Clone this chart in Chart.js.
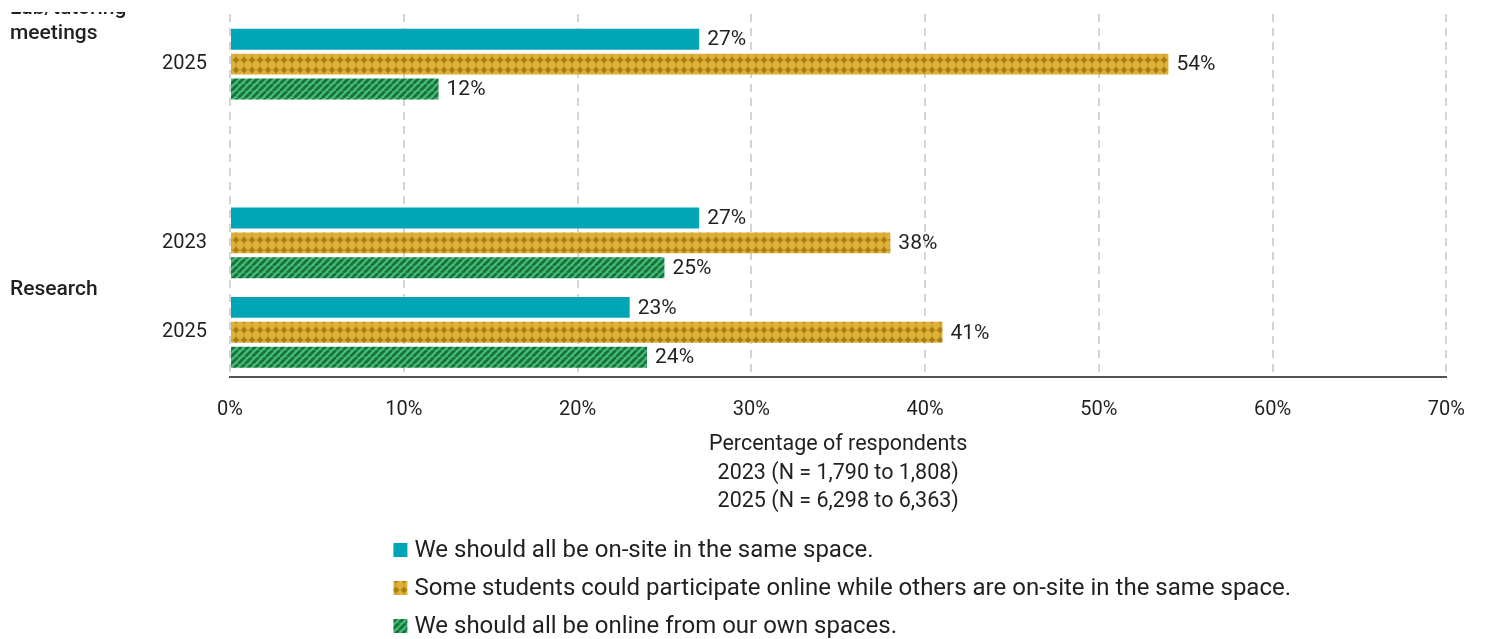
<!DOCTYPE html>
<html>
<head>
<meta charset="utf-8">
<script src="https://cdn.jsdelivr.net/npm/chart.js@4"></script>
<style>
    html, body { margin: 0; padding: 0; background: #fff; overflow: hidden; }
    #frame  { position: absolute; left: 0; top: 12px; width: 1486px; height: 627px; overflow: hidden; }
    #holder { position: absolute; left: 0; top: -117px; width: 1486px; height: 757px; }
</style>
</head>
<body>
<div id="frame"><div id="holder"><canvas id="modeChart"></canvas></div></div>
<script>
const YEAR_LABELS = ['2023', '2025', '', '2023', '2025'];

const GROUP_NAMES = [['Lab/tutoring', 'meetings'], ['Research']];
const GROUP_ROWS  = [[0, 1], [3, 4]];

const SERIES_LABELS = [
    'We should all be on-site in the same space.',
    'Some students could participate online while others are on-site in the same space.',
    'We should all be online from our own spaces.'
];

const ON_SITE = [null, 27, null, 27, 23];
const HYBRID  = [null, 54, null, 38, 41];
const ONLINE  = [null, 12, null, 25, 24];

const X_MAX  = 70;
const X_STEP = 10;

const AXIS_TITLE = [
    'Percentage of respondents',
    '2023 (N = 1,790 to 1,808)',
    '2025 (N = 6,298 to 6,363)'
];

const TEXT_COLOR = '#231f20';
const FONT = 'Roboto';

function makeTile(w, h, draw) {
    const tile = document.createElement('canvas');
    tile.width = w;
    tile.height = h;
    draw(tile.getContext('2d'));
    return document.createElement('canvas').getContext('2d').createPattern(tile, 'repeat');
}

// gold with rows of dark diamonds joined by thin lines
function dotPattern() {
    return makeTile(8, 10, (c) => {
        c.fillStyle = '#dfb038';
        c.fillRect(0, 0, 8, 10);
        c.fillStyle = '#c39a2a';
        c.fillRect(0, 4.5, 8, 1);
        c.fillRect(3.5, 0, 1, 10);
        c.fillStyle = '#a87d12';
        c.beginPath();
        c.moveTo(4, 1.8);
        c.lineTo(7.2, 5);
        c.lineTo(4, 8.2);
        c.lineTo(0.8, 5);
        c.closePath();
        c.fill();
    });
}

// green with dark diagonal stripes
function stripePattern() {
    return makeTile(7, 7, (c) => {
        c.fillStyle = '#3ec174';
        c.fillRect(0, 0, 7, 7);
        c.strokeStyle = '#1f6e40';
        c.lineWidth = 2.8;
        for (let o = -7; o <= 7; o += 7) {
            c.beginPath();
            c.moveTo(o, 7);
            c.lineTo(o + 7, 0);
            c.stroke();
        }
    });
}

const valueLabels = {
    id: 'valueLabels',
    afterDatasetsDraw(chart) {
        const ctx = chart.ctx;
        ctx.save();
        ctx.font = `21px ${FONT}`;
        ctx.fillStyle = TEXT_COLOR;
        ctx.textAlign = 'left';
        ctx.textBaseline = 'middle';
        chart.data.datasets.forEach((ds, d) => {
            chart.getDatasetMeta(d).data.forEach((bar, i) => {
                const v = ds.data[i];
                if (v === null) return;
                ctx.fillText(v + '%', bar.x + 8, bar.y + 1);
            });
        });
        ctx.restore();
    }
};

const groupLabels = {
    id: 'groupLabels',
    afterDraw(chart) {
        const ctx = chart.ctx;
        const y = chart.scales.y;
        ctx.save();
        ctx.font = `500 21px ${FONT}`;
        ctx.fillStyle = TEXT_COLOR;
        ctx.textAlign = 'left';
        ctx.textBaseline = 'middle';
        GROUP_NAMES.forEach((lines, g) => {
            const rows = GROUP_ROWS[g];
            const mid = (y.getPixelForValue(rows[0]) + y.getPixelForValue(rows[1])) / 2;
            lines.forEach((line, k) => {
                ctx.fillText(line, 10, mid + 2 + (k - (lines.length - 1) / 2) * 25);
            });
        });
        ctx.restore();
    }
};

// one legend entry per line, block centred under the plot
const stackedLegend = {
    id: 'stackedLegend',
    afterDraw(chart) {
        const ctx = chart.ctx;
        const area = chart.chartArea;
        const top = chart.scales.x.bottom + 29;
        ctx.save();
        ctx.font = `24px ${FONT}`;
        const widest = Math.max(...chart.data.datasets.map(ds => ctx.measureText(ds.label).width));
        const left = (area.left + area.right) / 2 - (widest + 21) / 2 + 4;
        ctx.textAlign = 'left';
        ctx.textBaseline = 'middle';
        chart.data.datasets.forEach((ds, i) => {
            const cy = top + i * 38;
            ctx.fillStyle = ds.backgroundColor;
            ctx.fillRect(left, cy - 7, 14, 14);
            ctx.fillStyle = TEXT_COLOR;
            ctx.fillText(ds.label, left + 21, cy + 1);
        });
        ctx.restore();
    }
};

function initChart() {
    const datasets = [
        { label: SERIES_LABELS[0], data: ON_SITE, backgroundColor: '#00a5b5' },
        { label: SERIES_LABELS[1], data: HYBRID,  backgroundColor: dotPattern() },
        { label: SERIES_LABELS[2], data: ONLINE,  backgroundColor: stripePattern() }
    ];

    new Chart(document.getElementById('modeChart'), {
        type: 'bar',
        data: { labels: YEAR_LABELS, datasets: datasets },
        plugins: [valueLabels, groupLabels, stackedLegend],
        options: {
            indexAxis: 'y',
            responsive: true,
            maintainAspectRatio: false,
            animation: false,
            categoryPercentage: 0.835,
            barPercentage: 0.84,
            layout: { padding: { top: 21, right: 39, bottom: 131, left: 0 } },
            plugins: {
                legend: { display: false },
                tooltip: { enabled: false }
            },
            scales: {
                x: {
                    min: 0,
                    max: X_MAX,
                    grid: { color: '#d4d4d4', lineWidth: 2, drawTicks: false },
                    border: { display: true, color: '#555', width: 2, dash: [8, 6] },
                    ticks: {
                        stepSize: X_STEP,
                        padding: 21,
                        color: TEXT_COLOR,
                        font: { family: FONT, size: 20 },
                        callback: (v) => v + '%'
                    },
                    title: {
                        display: true,
                        text: AXIS_TITLE,
                        color: TEXT_COLOR,
                        font: { family: FONT, size: 21.5, lineHeight: 28.5 / 21.5 },
                        padding: { top: 7, bottom: 5 }
                    },
                    // ticks + title, without the doubled tick padding
                    afterFit: (scale) => { scale.height = 144; }
                },
                y: {
                    grid: { display: false, drawTicks: false },
                    border: { display: false },
                    ticks: {
                        padding: 23,
                        color: TEXT_COLOR,
                        font: { family: FONT, size: 20 }
                    },
                    afterFit: (scale) => { scale.width = 230; }
                }
            }
        }
    });
}

initChart();
</script>
</body>
</html>
